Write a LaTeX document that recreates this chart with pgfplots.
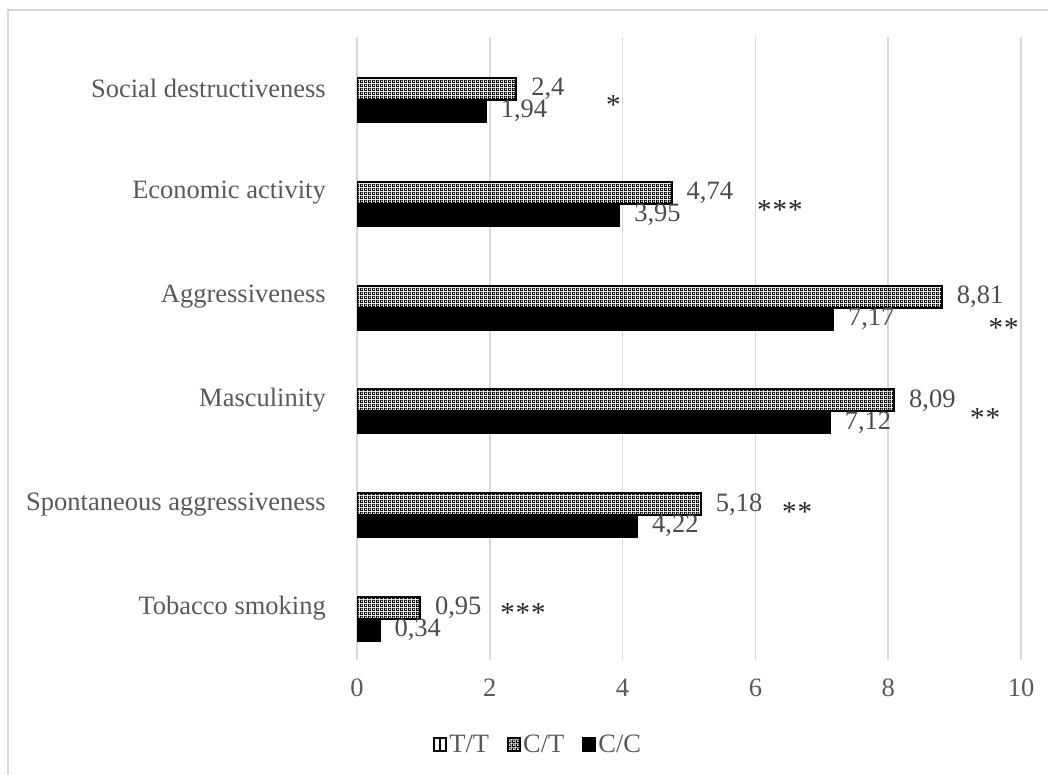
\documentclass[border=0pt]{standalone}
\usepackage{fontspec}
\setmainfont{Liberation Serif}
\usepackage{pgfplots}
\pgfplotsset{compat=1.18}
\usetikzlibrary{patterns.meta}

% fine dotted-grid texture for the C/T bars (black grid with white holes)
\pgfdeclarepattern{
  name=finecheck, type=uncolored,
  bottom left={\pgfpoint{0pt}{0pt}}, top right={\pgfpoint{4pt}{4pt}},
  tile size={\pgfpoint{4pt}{4pt}},
  code={\pgfpathrectangle{\pgfpoint{0pt}{0pt}}{\pgfpoint{4pt}{4pt}}
        \pgfpathrectangle{\pgfpoint{1pt}{1pt}}{\pgfpoint{2pt}{2pt}}
        \pgfseteorule
        \pgfusepath{fill}}
}

\definecolor{txt}{HTML}{595959}
\definecolor{gridc}{HTML}{D9D9D9}
\newcommand\lbl{\fontsize{26.5}{30}\selectfont}
\newcommand\sigfont{\fontsize{29}{32}\selectfont}

\pgfplotsset{
  boxlegend/.style={legend image code/.code={\draw[##1] (0pt,-6pt) rectangle (12pt,7pt);}},
}
\tikzset{sig/.style={font=\sigfont, text=black!85, yshift=-5pt, inner sep=0pt}}

\pgfplotstableread{
y  CT    CC
0  0.95  0.34
1  5.18  4.22
2  8.09  7.12
3  8.81  7.17
4  4.74  3.95
5  2.40  1.94
}\scores

\begin{document}
\begin{tikzpicture}[x=1pt,y=1pt]
\useasboundingbox (0,0) rectangle (1048,-774);
\draw[gridc, line width=2pt] (8,-776) -- (8,-10) -- (1050,-10);
\begin{axis}[
  at={(357pt,-660pt)}, anchor=south west,
  scale only axis, width=664pt, height=623pt,
  xbar, bar width=22pt,
  xmin=0, xmax=10, ymin=-0.5, ymax=5.5,
  xtick={0,2,...,10}, ytick={0,...,5},
  yticklabels={Tobacco smoking, Spontaneous aggressiveness, Masculinity,
               Aggressiveness, Economic activity, Social destructiveness},
  axis line style={draw=none},
  major tick length=0pt,
  xmajorgrids, grid style={gridc, line width=1.5pt},
  tick label style={font=\lbl, text=txt, inner sep=0pt},
  xticklabel style={anchor=north, yshift=-19pt},
  yticklabel style={anchor=east, xshift=-31pt},
  /pgf/number format/.cd, use comma, fixed, precision=2, assume math mode=true, /pgfplots/.cd,
  point meta=x,
  nodes near coords,
  every node near coord/.append style={anchor=west, inner sep=0pt, xshift=14pt,
                                font=\lbl, text=txt!85!black},
  legend style={at={(0.273,-0.136)}, anchor=center, legend columns=-1,
                draw=none, fill=none, font=\lbl, text=txt,
                /tikz/every even column/.append style={column sep=16pt},
                /tikz/every odd column/.append style={column sep=0pt}},
  legend cell align=left,
]
\addlegendimage{legend image code/.code={
  \draw[line width=2pt] (0pt,-6pt) rectangle (12pt,7pt);
  \draw[line width=2pt] (6pt,-6pt) -- (6pt,7pt);}}
\addlegendentry{T/T}

\addplot[draw=black, line width=2pt, pattern=finecheck, pattern color=black,
         bar shift=0pt, boxlegend]
  table[x=CT, y=y] {\scores};
\addlegendentry{C/T}

\addplot[draw=black, fill=black, line width=2pt, bar shift=-22pt, boxlegend]
  table[x=CC, y=y] {\scores};
\addlegendentry{C/C}

% significance marks
\node[sig] at (axis cs:3.86,4.89) {*};
\node[sig] at (axis cs:6.37,3.88) {*\hspace{1pt}*\hspace{1pt}*};
\node[sig] at (axis cs:9.74,2.745) {*\hspace{1pt}*};
\node[sig] at (axis cs:9.46,1.88) {*\hspace{1pt}*};
\node[sig] at (axis cs:6.63,0.97) {*\hspace{1pt}*};
\node[sig] at (axis cs:2.50,0.0) {*\hspace{1pt}*\hspace{1pt}*};
\end{axis}
\end{tikzpicture}
\end{document}
